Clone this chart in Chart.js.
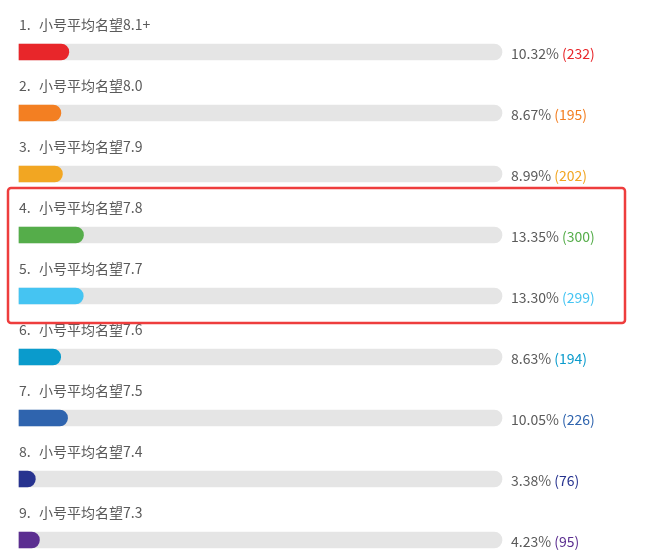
<!DOCTYPE html>
<html>
<head>
<meta charset="utf-8">
<script src="https://cdn.jsdelivr.net/npm/chart.js@4/dist/chart.umd.min.js"></script>
<style>
  html, body { margin: 0; padding: 0; background: #fff; }
  #wrap { width: 667px; height: 558px; position: relative; }
</style>
</head>
<body>
<div id="wrap"><canvas id="chart"></canvas></div>
<script>
// 选项名称
const labels = [
  "小号平均名望8.1+", "小号平均名望8.0", "小号平均名望7.9",
  "小号平均名望7.8", "小号平均名望7.7", "小号平均名望7.6",
  "小号平均名望7.5", "小号平均名望7.4", "小号平均名望7.3"
];
// 百分比 和 票数
const percents = [10.32, 8.67, 8.99, 13.35, 13.30, 8.63, 10.05, 3.38, 4.23];
const counts = [232, 195, 202, 300, 299, 194, 226, 76, 95];
const colors = [
  "#e8262a", "#f37f22", "#f2a622", "#55ad4a", "#45c4f2",
  "#0a9bcc", "#2f64ae", "#27338f", "#5b2e90"
];
const track = labels.map(() => 100);
// 红框标出的行
const highlight = [3, 4];

const FONT = '"Noto Sans CJK SC", "Microsoft YaHei", sans-serif';

// 文字 + 红框
const textPlugin = {
  id: "rowText",
  afterDatasetsDraw(chart) {
    const { ctx, chartArea, scales: { x, y } } = chart;
    ctx.save();
    ctx.font = "14px " + FONT;
    ctx.textBaseline = "middle";
    labels.forEach((name, i) => {
      const cy = y.getPixelForValue(i);
      ctx.fillStyle = "#5a5a5a";
      ctx.textAlign = "left";
      ctx.fillText((i + 1) + ".", chartArea.left, cy - 27);
      ctx.fillText(name, chartArea.left + 20, cy - 27);

      const pct = percents[i].toFixed(2) + "% ";
      const tx = x.getPixelForValue(100) + 9;
      ctx.fillStyle = "#5a5a5a";
      ctx.fillText(pct, tx, cy + 2);
      const w = ctx.measureText(pct).width;
      ctx.fillStyle = colors[i];
      ctx.fillText("(" + counts[i] + ")", tx + w, cy + 2);
    });

    const top = y.getPixelForValue(highlight[0]) - 47;
    const bottom = y.getPixelForValue(highlight[highlight.length - 1]) + 27;
    const left = chartArea.left - 11;
    const right = chartArea.right + 123;
    ctx.strokeStyle = "#ee3d3d";
    ctx.lineWidth = 2.5;
    ctx.beginPath();
    ctx.roundRect(left, top, right - left, bottom - top, 3);
    ctx.stroke();
    ctx.restore();
  }
};

new Chart(document.getElementById("chart"), {
  type: "bar",
  data: {
    labels,
    datasets: [
      {
        data: percents,
        backgroundColor: colors,
        barThickness: 16,
        borderRadius: 8,
        borderSkipped: "start",
        grouped: false,
        clip: false,
        order: 1
      },
      {
        data: track,
        backgroundColor: "#e5e5e5",
        barThickness: 16,
        borderRadius: 8,
        borderSkipped: "start",
        grouped: false,
        clip: false,
        order: 2
      }
    ]
  },
  options: {
    indexAxis: "y",
    responsive: true,
    maintainAspectRatio: false,
    animation: false,
    layout: { padding: { left: 19, right: 165, top: 52, bottom: 18 } },
    plugins: { legend: { display: false }, tooltip: { enabled: false } },
    scales: {
      x: { display: false, min: 0, max: 100 },
      y: { display: false, offset: false }
    }
  },
  plugins: [textPlugin]
});
</script>
</body>
</html>
